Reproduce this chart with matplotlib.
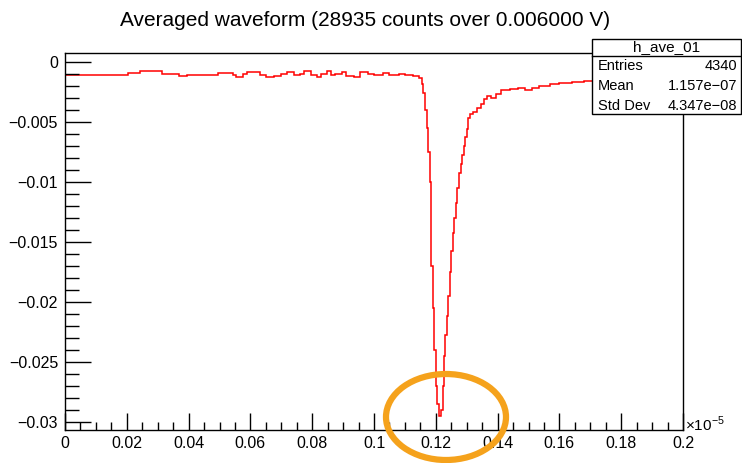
import matplotlib
matplotlib.use("Agg")
import matplotlib.pyplot as plt
from matplotlib.patches import Rectangle, Ellipse
from matplotlib.ticker import MultipleLocator, FuncFormatter

plt.rcParams['font.family'] = ['Liberation Sans', 'DejaVu Sans']

title = "Averaged waveform (28935 counts over 0.006000 V)"
stats_name = "h_ave_01"
stats_labels = ["Entries", "Mean", "Std Dev"]
stats_values = ["4340", "1.157e\u221207", "4.347e\u221208"]

# bin edges (x in units of 1e-5) and bin contents
edges = [0.0, 0.0205, 0.0243, 0.0313, 0.0370, 0.0394, 0.0496, 0.0545, 0.0555, 0.0575,
         0.0588, 0.0631, 0.0650, 0.0675, 0.0700, 0.0717, 0.0740, 0.0761, 0.0775, 0.0795,
         0.0815, 0.0830, 0.0847, 0.0860, 0.0875, 0.0895, 0.0910, 0.0935, 0.0955, 0.0980,
         0.1000, 0.1030, 0.1050, 0.1080, 0.1100, 0.1127, 0.1145, 0.1155, 0.1160, 0.1165,
         0.1170, 0.1175, 0.1180, 0.1183, 0.1186, 0.1190, 0.1195, 0.1200, 0.1205, 0.1210,
         0.1218, 0.1222, 0.1226, 0.1231, 0.1236, 0.1241, 0.1246, 0.1250, 0.1255, 0.1260,
         0.1265, 0.1270, 0.1275, 0.1280, 0.1285, 0.1290, 0.1295, 0.1300, 0.1305, 0.1312,
         0.1322, 0.1333, 0.1345, 0.1355, 0.1365, 0.1380, 0.1395, 0.1410, 0.1440, 0.1465,
         0.1490, 0.1510, 0.1535, 0.1570, 0.1600, 0.1640, 0.1680, 0.1750, 0.1850, 0.2000]
values = [-0.0011, -0.00095, -0.00078, -0.0010, -0.0012, -0.0011, -0.00095, -0.0011, -0.0013, -0.0010,
          -0.0009, -0.0011, -0.0013, -0.0012, -0.0010, -0.00085, -0.0011, -0.0010, -0.0008, -0.0011,
          -0.0013, -0.0010, -0.0008, -0.0011, -0.0010, -0.0009, -0.0012, -0.0013, -0.0009, -0.0010,
          -0.0011, -0.00095, -0.0011, -0.0010, -0.0011, -0.0012, -0.0014, -0.0019, -0.0026, -0.0040,
          -0.0055, -0.0075, -0.0100, -0.0135, -0.0170, -0.0205, -0.0240, -0.0270, -0.0285, -0.0295,
          -0.0290, -0.0270, -0.0245, -0.0228, -0.0212, -0.0195, -0.0175, -0.0158, -0.0143, -0.0130,
          -0.0118, -0.0105, -0.0093, -0.0085, -0.0078, -0.0070, -0.0063, -0.0056, -0.0047, -0.0044,
          -0.0042, -0.0039, -0.0035, -0.0031, -0.0029, -0.0030, -0.0027, -0.0024, -0.0023, -0.0022,
          -0.0024, -0.0022, -0.0020, -0.0019, -0.0018, -0.0017, -0.0016, -0.0015, -0.0014]

xticks = [0, 0.02, 0.04, 0.06, 0.08, 0.1, 0.12, 0.14, 0.16, 0.18, 0.2]
yticks = [0, -0.005, -0.01, -0.015, -0.02, -0.025, -0.03]

W, H = 742, 463
fig = plt.figure(figsize=(W / 100, H / 100), dpi=100)
ax = fig.add_axes([65 / W, 1 - 430 / H, (683 - 65) / W, (430 - 53.3) / H])

ax.stairs(values, edges, color='#ff0000', linewidth=1.1, baseline=None)
ax.set_xlim(0, 0.2)
ax.set_ylim(-0.0307, 0.0007)

ax.set_xticks(xticks)
ax.set_yticks(yticks)
fmt = FuncFormatter(lambda v, p: "0" if abs(v) < 1e-12 else ("%g" % v).replace("-", "\u2212"))
ax.xaxis.set_major_formatter(fmt)
ax.yaxis.set_major_formatter(fmt)
ax.xaxis.set_minor_locator(MultipleLocator(0.005))
ax.yaxis.set_minor_locator(MultipleLocator(0.001))
ax.tick_params(which='both', direction='in', labelsize=11.5, width=1)
ax.tick_params(axis='x', which='major', length=12, pad=4)
ax.tick_params(axis='x', which='minor', length=6)
ax.tick_params(axis='y', which='major', length=19, pad=5)
ax.tick_params(axis='y', which='minor', length=10)
for s in ax.spines.values():
    s.set_linewidth(1)

fig.text(365 / W, 1 - 21 / H, title, ha='center', va='center', fontsize=15)
fig.text(685 / W, 1 - 424 / H, "\u00d710$^{\\mathregular{-5}}$", ha='left', va='center', fontsize=11)

# stats box
bx0, bx1, by0, by1, byt = 592, 741, 39, 114, 56
fig.patches.append(Rectangle((bx0 / W, 1 - by1 / H), (bx1 - bx0) / W, (by1 - by0) / H,
                             transform=fig.transFigure, facecolor='white', edgecolor='black',
                             linewidth=1, zorder=5))
fig.lines.append(plt.Line2D([bx0 / W, bx1 / W], [1 - byt / H, 1 - byt / H],
                            transform=fig.transFigure, color='black', linewidth=1, zorder=6))
fig.text((bx0 + bx1) / 2 / W, 1 - 51.5 / H, stats_name, ha='center', va='baseline', fontsize=11, zorder=7)
for i, (lab, val) in enumerate(zip(stats_labels, stats_values)):
    yy = 1 - (69.5 + i * 20) / H
    fig.text((bx0 + 6) / W, yy, lab, ha='left', va='baseline', fontsize=10.5, zorder=7)
    fig.text((bx1 - 4) / W, yy, val, ha='right', va='baseline', fontsize=10.5, zorder=7)

# hand-drawn orange annotation
fig.patches.append(Ellipse((446 / W, 1 - 417 / H), 120 / W, 86 / H, transform=fig.transFigure,
                           facecolor='none', edgecolor='#f5a21c', linewidth=4.5, zorder=8))

fig.savefig("out.png", dpi=100)
